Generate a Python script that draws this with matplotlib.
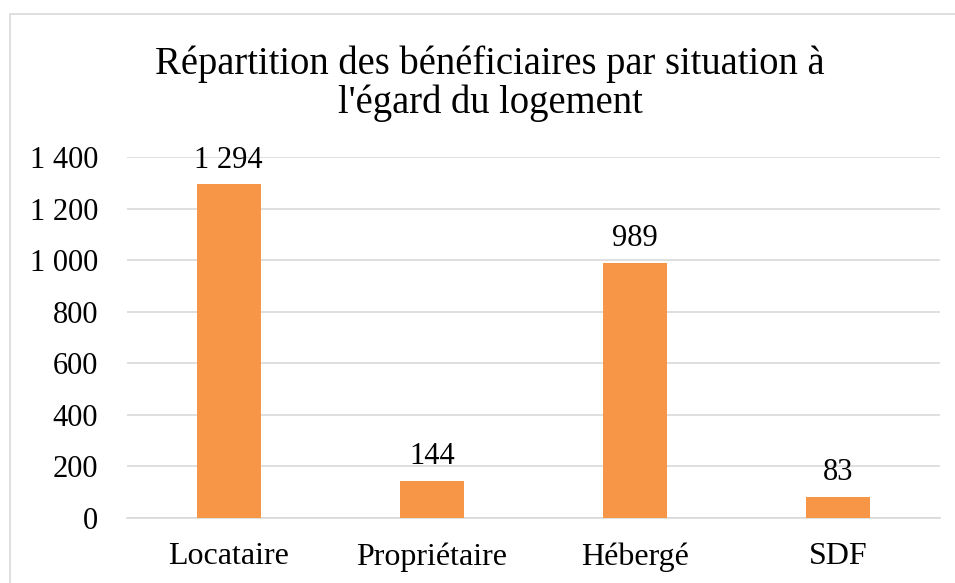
import matplotlib
matplotlib.use("Agg")
import matplotlib.pyplot as plt
from matplotlib.patches import Rectangle
from matplotlib.ticker import FixedLocator, FuncFormatter

categories = ["Locataire", "Propriétaire", "Hébergé", "SDF"]
values = [1294, 144, 989, 83]
yticks = [0, 200, 400, 600, 800, 1000, 1200, 1400]
title = "Répartition des bénéficiaires par situation à\nl'égard du logement"

plt.rcParams['font.family'] = ['Liberation Serif', 'DejaVu Serif']

W, H = 955, 583
fig = plt.figure(figsize=(W / 100, H / 100), dpi=100)
fig.patch.set_facecolor("white")

# chart area border (cropped at right/bottom)
fig.patches.append(Rectangle((10 / W, -0.1), 1.2, 1 - 14 / H + 0.1,
                             transform=fig.transFigure, fill=False,
                             edgecolor="#d9d9d9", linewidth=1.2))

ax = fig.add_axes([127 / W, 1 - 518 / H, (940 - 127) / W, (518 - 157) / H])
x = list(range(len(categories)))
ax.bar(x, values, width=0.315, color="#f79646", zorder=3)
ax.set_xlim(-0.5, len(categories) - 0.5)
ax.set_ylim(0, 1400)
ax.yaxis.set_major_locator(FixedLocator(yticks))
fmt = lambda v: f"{int(v):,}".replace(",", " ")
ax.yaxis.set_major_formatter(FuncFormatter(lambda v, p: fmt(v)))
ax.set_xticks(x)
ax.set_xticklabels(categories)
ax.tick_params(axis="both", length=0, colors="black")
ax.tick_params(axis="y", pad=20.9, labelsize=22)
ax.tick_params(axis="x", pad=17.5, labelsize=23)
ax.grid(axis="y", color="#d9d9d9", linewidth=1.2, zorder=0)
for s in ["top", "right", "left"]:
    ax.spines[s].set_visible(False)
ax.spines["bottom"].set_color("#d9d9d9")
ax.spines["bottom"].set_linewidth(1.2)
ax.set_facecolor("none")

for xi, v in zip(x, values):
    ax.annotate(fmt(v), (xi, v), xytext=(0, 7), textcoords="offset points",
                ha="center", va="bottom", fontsize=22)

fig.text(490 / W, 1 - 84 / H, title, ha="center", va="center",
         fontsize=27.8, linespacing=1.05)

fig.savefig("out.png", dpi=100)
